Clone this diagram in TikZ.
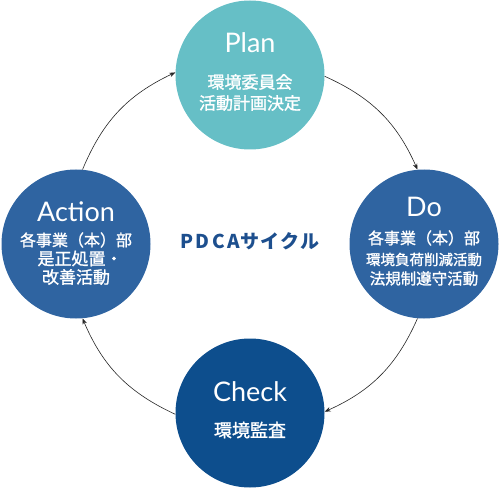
\documentclass[tikz,border=0pt]{standalone}
\usepackage{fontspec}
\setmainfont[FakeBold=1.3]{Noto Sans CJK JP}
\newfontfamily\pdcafont{Noto Sans CJK JP}
\newfontfamily\latn{Lato}
\usetikzlibrary{arrows.meta}
\definecolor{planc}{HTML}{66BFC6}
\definecolor{doc}{HTML}{2F64A1}
\definecolor{checkc}{HTML}{0D4E8D}
\definecolor{pdcac}{HTML}{1D4F8E}
\begin{document}
\begin{tikzpicture}[x=1pt,y=-1pt,
  phase/.style={circle,minimum size=149pt,inner sep=0pt},
  ttl/.style={text=white,font=\latn\fontsize{27}{27}\selectfont,inner sep=0pt},
  jtxt/.style={text=white,font=\fontsize{#1}{21}\selectfont,align=center,inner sep=0pt},
  jtxt/.default=17,
  cyc/.style={-{Stealth[length=6pt,width=4.5pt]},line width=0.6pt,black!85}]
\useasboundingbox (0,0) rectangle (500,489);
% circles
\node[phase,fill=planc]  (plan)   at (250,75)  {};
\node[phase,fill=doc]    (do)     at (424,244) {};
\node[phase,fill=checkc] (check)  at (250,413) {};
\node[phase,fill=doc]    (action) at (76,244)  {};
% Plan
\node[ttl] (plant) at (250,43) {Plan};
\node[jtxt] (planj) at (250,92.5) {環境委員会\\活動計画決定};
% Do
\node[ttl] (dot) at (424,207) {Do};
\node[jtxt=16]   (doj1) at (424,238) {各事業（本）部};
\node[jtxt=14.5] (doj2) at (424,259.5) {環境負荷削減活動};
\node[jtxt=15.5] (doj3) at (424,278.5) {法規制遵守活動};
% Check
\node[ttl] (checkt) at (250,392) {Check};
\node[jtxt=18] (checkj) at (250,430) {環境監査};
% Action
\node[ttl] (actiont) at (76,212) {Action};
\node[jtxt=16] (actionj1) at (76,240) {各事業（本）部};
\node[jtxt=17] (actionj2) at (80,258.5) {是正処置・};
\node[jtxt=17] (actionj3) at (76,277) {改善活動};
% centre label
\node[text=pdcac,font=\pdcafont\bfseries,inner sep=0pt] (pdca) at (250,241)
  {{\fontsize{19}{19}\selectfont\addfontfeature{LetterSpace=14}PDCA}{\fontsize{19}{19}\selectfont\addfontfeature{LetterSpace=8}サイクル}};
% cycle arrows
\draw[cyc] (plan.-1.5)   to[bend left=21] (do.95);
\draw[cyc] (do.-95)      to[bend left=21] (check.1.5);
\draw[cyc] (check.181.5) to[bend left=21] (action.-85);
\draw[cyc] (action.85)   to[bend left=21] (plan.178.5);
\end{tikzpicture}
\end{document}
